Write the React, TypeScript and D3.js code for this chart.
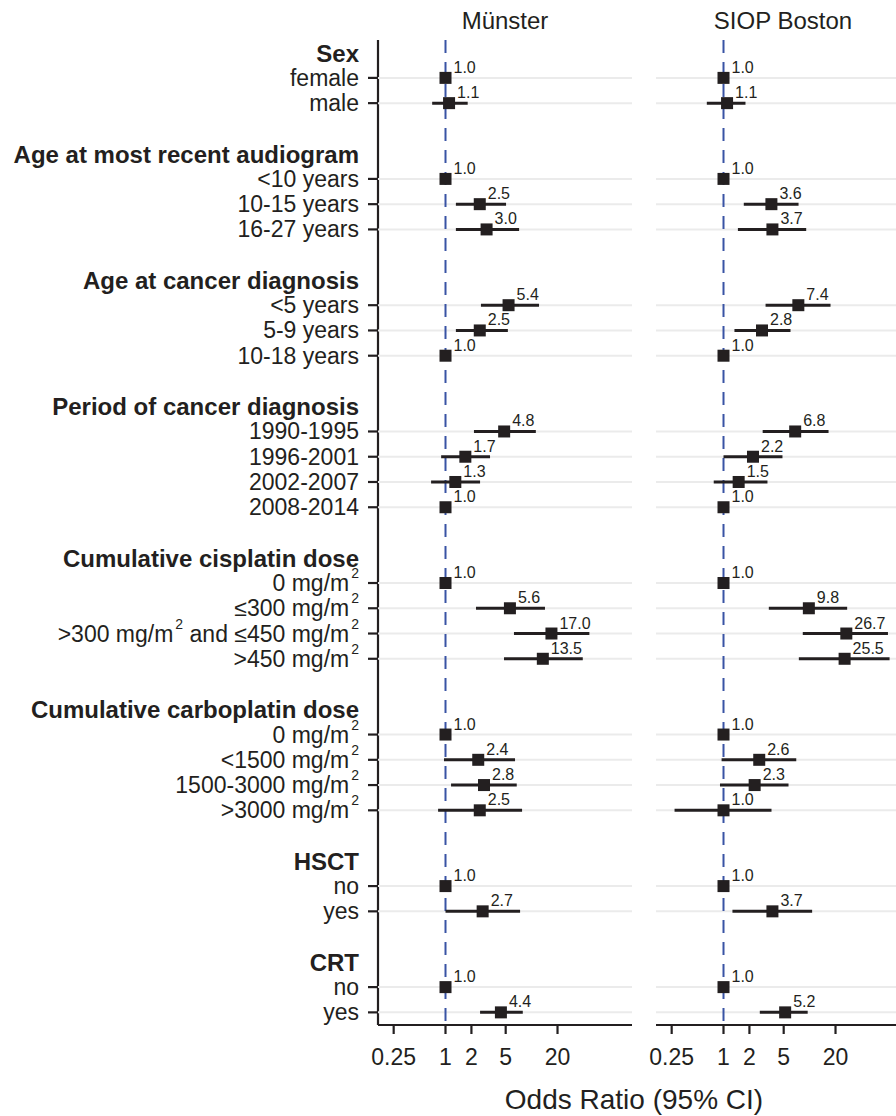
import React from "react";
import * as d3 from "d3";

// groups and their levels, in plotting order ("^2" marks a superscript 2)
const groupNames = [
  "Sex",
  "Age at most recent audiogram",
  "Age at cancer diagnosis",
  "Period of cancer diagnosis",
  "Cumulative cisplatin dose",
  "Cumulative carboplatin dose",
  "HSCT",
  "CRT",
];
const groupLevels = [
  ["female", "male"],
  ["<10 years", "10-15 years", "16-27 years"],
  ["<5 years", "5-9 years", "10-18 years"],
  ["1990-1995", "1996-2001", "2002-2007", "2008-2014"],
  ["0 mg/m^2", "≤300 mg/m^2", ">300 mg/m^2 and ≤450 mg/m^2", ">450 mg/m^2"],
  ["0 mg/m^2", "<1500 mg/m^2", "1500-3000 mg/m^2", ">3000 mg/m^2"],
  ["no", "yes"],
  ["no", "yes"],
];

const cohorts = ["Münster", "SIOP Boston"];

// odds ratios and 95% CI, one value per level (null = reference category)
const munsterOR = [1.0, 1.1, 1.0, 2.5, 3.0, 5.4, 2.5, 1.0, 4.8, 1.7, 1.3, 1.0, 1.0, 5.6, 17.0, 13.5, 1.0, 2.4, 2.8, 2.5, 1.0, 2.7, 1.0, 4.4];
const munsterLo = [null, 0.7, null, 1.32, 1.32, 2.58, 1.32, null, 2.14, 0.89, 0.68, null, null, 2.26, 6.24, 4.78, null, 0.96, 1.16, 0.82, null, 1.0, null, 2.52];
const munsterHi = [null, 1.81, null, 5.05, 7.16, 12.2, 5.3, null, 11.2, 3.29, 2.52, null, null, 14.3, 46.9, 39.3, null, 6.42, 6.72, 7.75, null, 7.35, null, 7.9];

const bostonOR = [1.0, 1.1, 1.0, 3.6, 3.7, 7.4, 2.8, 1.0, 6.8, 2.2, 1.5, 1.0, 1.0, 9.8, 26.7, 25.5, 1.0, 2.6, 2.3, 1.0, 1.0, 3.7, 1.0, 5.2];
const bostonLo = [null, 0.64, null, 1.72, 1.47, 3.08, 1.34, null, 2.85, 1.0, 0.77, null, null, 3.36, 8.33, 7.5, null, 0.95, 0.91, 0.27, null, 1.27, null, 2.64];
const bostonHi = [null, 1.8, null, 7.44, 9.13, 17.5, 6.0, null, 16.6, 4.84, 3.24, null, null, 27.3, 81.3, 84.9, null, 7.0, 5.69, 3.61, null, 10.7, null, 9.5];

const xTicks = [0.25, 1, 2, 5, 20];

const W = 896;
const H = 1116;
const FONT = "'Liberation Sans', Arial, Helvetica, sans-serif";
const INK = "#231f20";

type Row = { key: string; label: string; kind: "header" | "level" | "blank"; idx: number };

// build row list: header, levels, blank between groups
const rows: Row[] = [];
let levelIdx = 0;
groupNames.forEach((g, gi) => {
  if (gi > 0) rows.push({ key: `blank${gi}`, label: "", kind: "blank", idx: -1 });
  rows.push({ key: `h${gi}`, label: g, kind: "header", idx: -1 });
  groupLevels[gi].forEach((lv, li) => {
    rows.push({ key: `l${gi}_${li}`, label: lv, kind: "level", idx: levelIdx++ });
  });
});

const panelSeries = [
  { or: munsterOR, lo: munsterLo, hi: munsterHi },
  { or: bostonOR, lo: bostonLo, hi: bostonHi },
];

const panelLeft = [378, 656];
const panelW = 254;
const top = 40;
const bottom = 1025;

const y = d3
  .scalePoint<string>()
  .domain(rows.map((r) => r.key))
  .range([top, bottom])
  .padding(0.5);

const x = d3.scaleLog().domain([0.1644, 146.6]).range([0, panelW]);

function Label({ text, xPos, yPos, bold }: { text: string; xPos: number; yPos: number; bold: boolean }) {
  const parts = text.split("^2");
  return (
    <text
      x={xPos}
      y={yPos}
      textAnchor="end"
      dominantBaseline="central"
      fontSize={bold ? 24 : 23}
      fontWeight={bold ? "bold" : "normal"}
      fill={INK}
    >
      {parts.map((p, i) => (
        <React.Fragment key={i}>
          <tspan dy={i > 0 ? 10 : 0}>{p}</tspan>
          {i < parts.length - 1 && (
            <tspan dx={2} dy={-10} fontSize={14}>
              2
            </tspan>
          )}
        </React.Fragment>
      ))}
    </text>
  );
}

function Panel({ pi }: { pi: number }) {
  const s = panelSeries[pi];
  const left = panelLeft[pi];
  const levelRows = rows.filter((r) => r.kind === "level");
  return (
    <g transform={`translate(${left},0)`}>
      {/* grid */}
      {levelRows.map((r) => (
        <line key={r.key} x1={0} x2={panelW} y1={y(r.key)} y2={y(r.key)} stroke="#ebebeb" strokeWidth={2} />
      ))}
      {/* reference line */}
      <line x1={x(1)} x2={x(1)} y1={top} y2={bottom} stroke="#3953a4" strokeWidth={2} strokeDasharray="13,9" />
      {/* CIs */}
      {levelRows.map((r) => {
        const lo = s.lo[r.idx];
        const hi = s.hi[r.idx];
        if (lo == null || hi == null) return null;
        return (
          <line key={r.key} x1={x(lo)} x2={x(hi)} y1={y(r.key)} y2={y(r.key)} stroke={INK} strokeWidth={3} />
        );
      })}
      {/* points */}
      {levelRows.map((r) => (
        <rect key={r.key} x={x(s.or[r.idx]) - 6} y={(y(r.key) as number) - 6} width={12} height={12} fill={INK} />
      ))}
      {/* value labels */}
      {levelRows.map((r) => (
        <text key={r.key} x={x(s.or[r.idx]) + 8} y={(y(r.key) as number) - 5} fontSize={16} fill={INK}>
          {s.or[r.idx].toFixed(1)}
        </text>
      ))}
      {/* x axis */}
      <line x1={0} x2={panelW} y1={bottom} y2={bottom} stroke={INK} strokeWidth={2.2} />
      {xTicks.map((t) => (
        <g key={t}>
          <line x1={x(t)} x2={x(t)} y1={bottom} y2={bottom + 9} stroke={INK} strokeWidth={2.2} />
          <text x={x(t)} y={1065} textAnchor="middle" fontSize={23} fill={INK}>
            {t}
          </text>
        </g>
      ))}
      {/* strip title */}
      <text x={panelW / 2} y={29} textAnchor="middle" fontSize={24} fill={INK}>
        {cohorts[pi]}
      </text>
    </g>
  );
}

const App = () => {
  return (
    <svg
      width={W}
      height={H}
      style={{ position: "absolute", left: 0, top: 0, background: "#fff" }}
      fontFamily={FONT}
    >
      <rect width={W} height={H} fill="#fff" />
      {/* y axis labels */}
      {rows
        .filter((r) => r.kind !== "blank")
        .map((r) => (
          <Label key={r.key} text={r.label} xPos={359} yPos={y(r.key) as number} bold={r.kind === "header"} />
        ))}
      <line x1={panelLeft[0]} x2={panelLeft[0]} y1={top} y2={bottom} stroke={INK} strokeWidth={2.2} />
      {rows
        .filter((r) => r.kind === "level")
        .map((r) => (
          <line
            key={r.key}
            x1={panelLeft[0] - 10}
            x2={panelLeft[0]}
            y1={y(r.key)}
            y2={y(r.key)}
            stroke={INK}
            strokeWidth={2.2}
          />
        ))}
      <Panel pi={0} />
      <Panel pi={1} />
      <text x={634} y={1109} textAnchor="middle" fontSize={28} fill={INK}>
        Odds Ratio (95% CI)
      </text>
    </svg>
  );
};

export default App;
